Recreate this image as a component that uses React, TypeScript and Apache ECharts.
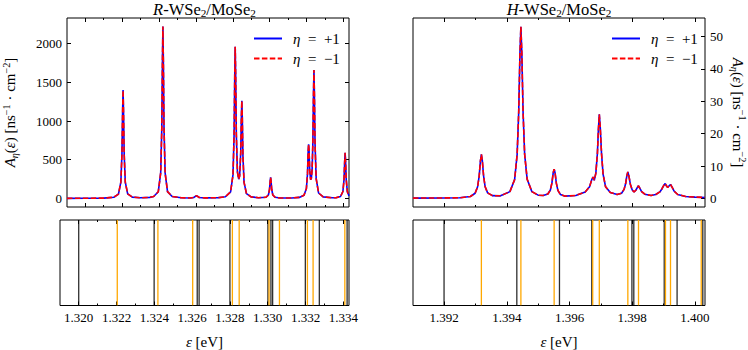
import React, { useEffect, useRef } from 'react';
import * as echarts from 'echarts';

// ---------- data ----------
// R-WSe2/MoSe2 spectrum (energy in eV, A_eta in ns^-1 cm^-2); eta=+1 and eta=-1 coincide
const rSpectrum: [number, number][] = [
  [1.31901, 1], [1.32, 2], [1.321, 4], [1.32155, 15], [1.3218, 56], [1.32193, 210],
  [1.32199, 576], [1.322025, 1120], [1.32205, 1400], [1.322075, 1120], [1.32211, 576],
  [1.32217, 210], [1.3223, 58], [1.32255, 17], [1.323, 8], [1.3235, 13], [1.32371, 24],
  [1.32396, 87], [1.32409, 331], [1.32415, 912], [1.324185, 1778], [1.32421, 2220],
  [1.324235, 1778], [1.32427, 912], [1.32433, 331], [1.32446, 88], [1.32471, 25],
  [1.3252, 8], [1.3257, 6], [1.32588, 12], [1.32603, 35], [1.32618, 12], [1.3265, 7],
  [1.3272, 9], [1.3276, 21], [1.32788, 84], [1.32801, 304], [1.32807, 822],
  [1.328105, 1587], [1.32813, 1960], [1.328155, 1595], [1.32819, 838], [1.32825, 342],
  [1.32832, 248], [1.32837, 290], [1.32843, 590], [1.328465, 1051], [1.32849, 1260],
  [1.328515, 1040], [1.32855, 544], [1.32861, 207], [1.32874, 62], [1.32899, 20],
  [1.3294, 9], [1.3298, 15], [1.32993, 44], [1.32999, 115], [1.330025, 220],
  [1.33005, 272], [1.330075, 220], [1.33011, 115], [1.33017, 44], [1.3303, 14],
  [1.33055, 5], [1.3312, 6], [1.3316, 13], [1.33186, 41], [1.33199, 128], [1.33205, 320],
  [1.332085, 601], [1.33211, 700], [1.332135, 617], [1.33217, 362], [1.33222, 242],
  [1.33226, 262], [1.3323, 375], [1.33234, 712], [1.332375, 1352], [1.3324, 1660],
  [1.332425, 1345], [1.33246, 694], [1.33252, 256], [1.33265, 70], [1.3329, 20],
  [1.3334, 8], [1.33359, 9], [1.33384, 25], [1.33397, 89], [1.33403, 244],
  [1.334065, 473], [1.33409, 590], [1.334115, 473], [1.33415, 243], [1.33421, 88],
  [1.3343, 33],
];

// H-WSe2/MoSe2 spectrum
const hSpectrum: [number, number][] = [
  [1.39101, 0.1], [1.392, 0.15], [1.3925, 0.2], [1.39284, 0.6], [1.39299, 1.6],
  [1.39307, 3.6], [1.39312, 6.9], [1.39316, 11.6], [1.39319, 13.6], [1.39322, 11.7],
  [1.39326, 7.0], [1.39331, 3.6], [1.39339, 1.7], [1.39354, 0.85], [1.3938, 0.8],
  [1.3941, 2.1], [1.39425, 5.8], [1.39433, 13.5], [1.39438, 26.5], [1.39442, 44.8],
  [1.39445, 53], [1.39448, 44.8], [1.39452, 26.5], [1.39457, 13.6], [1.39465, 5.9],
  [1.3948, 2.1], [1.395, 1.0], [1.39516, 0.9], [1.39531, 1.35], [1.39539, 2.6],
  [1.39544, 4.8], [1.39548, 7.9], [1.39551, 9], [1.39554, 7.85], [1.39558, 4.7],
  [1.39563, 2.5], [1.39571, 1.2], [1.39586, 0.7], [1.3962, 0.9], [1.3965, 2.0],
  [1.39664, 3.6], [1.39671, 5.8], [1.39675, 6.6], [1.39679, 5.6], [1.39684, 7.8],
  [1.39689, 14], [1.39692, 21], [1.39695, 26], [1.39698, 22], [1.39702, 14],
  [1.39707, 7.5], [1.39715, 3.6], [1.3973, 1.8], [1.39752, 1.2], [1.39766, 1.6],
  [1.39774, 2.8], [1.39779, 4.6], [1.39783, 7.1], [1.39786, 8.2], [1.39789, 7.1],
  [1.39794, 4.4], [1.398, 2.6], [1.39806, 2.0], [1.39812, 2.6], [1.39816, 3.3],
  [1.3982, 3.9], [1.39824, 3.2], [1.3983, 2.1], [1.3984, 1.3], [1.3986, 0.9],
  [1.39875, 1.2], [1.39888, 2.0], [1.39895, 3.0], [1.39901, 4.1], [1.39905, 4.6],
  [1.39909, 3.9], [1.39913, 3.4], [1.39918, 3.9], [1.39922, 4.3], [1.39927, 3.5],
  [1.39934, 2.2], [1.39945, 1.2], [1.3997, 0.6], [1.4, 0.4], [1.40032, 0.3],
];

// transition energies (lower panels)
const rBlackLines = [1.32, 1.32399, 1.32627, 1.32637, 1.328, 1.33001, 1.33017, 1.33026, 1.33199, 1.33273, 1.3342];
const rOrangeLines = [1.32204, 1.32419, 1.32603, 1.32813, 1.32849, 1.33007, 1.33062, 1.3321, 1.3324, 1.33408];
const hBlackLines = [1.392, 1.39432, 1.39568, 1.39671, 1.39799, 1.39805, 1.39902, 1.39943, 1.40025];
const hOrangeLines = [1.39319, 1.39445, 1.39551, 1.39674, 1.39695, 1.39786, 1.3982, 1.39906, 1.39922, 1.4002];

// axes
const rXRange = [1.31901, 1.3343];
const hXRange = [1.39101, 1.40032];
const rYRange = [-111, 2331];
const hYRange = [-2.65, 55.7];
const rXTicks = [1.32, 1.322, 1.324, 1.326, 1.328, 1.33, 1.332, 1.334];
const rXMinorTicks = [1.321, 1.323, 1.325, 1.327, 1.329, 1.331, 1.333];
const hXTicks = [1.392, 1.394, 1.396, 1.398, 1.4];
const hXMinorTicks = [1.393, 1.395, 1.397, 1.399];
const rYTicks = [0, 500, 1000, 1500, 2000];
const hYTicks = [0, 10, 20, 30, 40, 50];

const seriesNames = ['η = +1', 'η = −1'];

// ---------- styling ----------
const FONT = "'Liberation Serif', 'DejaVu Serif', serif";
const TICK_FS = 13;
const NAME_FS = 15;
const BLUE = '#0000ff';
const RED = '#ff0000';
const BLACK_LINE = 'rgba(0,0,0,0.82)';
const ORANGE_LINE = '#ffa800';

const richText = (fs: number) => ({
  n: { fontFamily: FONT, fontSize: fs, color: '#000', fill: '#000', lineHeight: 18, verticalAlign: 'middle' },
  i: { fontFamily: FONT, fontSize: fs, fontStyle: 'italic', color: '#000', fill: '#000', lineHeight: 18, verticalAlign: 'middle' },
  s: { fontFamily: FONT, fontSize: fs * 0.68, color: '#000', fill: '#000', lineHeight: 10, verticalAlign: 'bottom' },
  si: { fontFamily: FONT, fontSize: fs * 0.68, fontStyle: 'italic', color: '#000', fill: '#000', lineHeight: 10, verticalAlign: 'bottom' },
  p: { fontFamily: FONT, fontSize: fs * 0.68, color: '#000', fill: '#000', lineHeight: 10, verticalAlign: 'top' },
});

const yName = '{i|A}{si|η}{n|(}{i|ε}{n|) [ns}{p|−1}{n| · cm}{p|−2}{n|]}';
const xName = '{i|ε}{n| [eV]}';

function xAx(grid: number, range: number[], position: string, ticks: number[], len: number, labelled: boolean) {
  const ax: any = {
    type: 'value', gridIndex: grid, position, min: range[0], max: range[1],
    axisLine: { show: false, onZero: false },
    splitLine: { show: false },
    axisTick: { show: true, inside: true, length: len, customValues: ticks, lineStyle: { color: '#000', width: 1 } },
    axisLabel: { show: false },
  };
  if (labelled) {
    ax.axisLabel = {
      show: true, customValues: ticks, formatter: (v: number) => v.toFixed(3),
      fontFamily: FONT, fontSize: TICK_FS, color: '#000', margin: 5,
    };
    ax.name = xName;
    ax.nameLocation = 'middle';
    ax.nameGap = 27;
    ax.nameTextStyle = { rich: richText(NAME_FS) };
  }
  return ax;
}

function xAxesFor(grid: number, range: number[], ticks: number[], minor: number[], labelled: boolean) {
  return [
    xAx(grid, range, 'bottom', ticks, 4, labelled),
    xAx(grid, range, 'bottom', minor, 2, false),
    xAx(grid, range, 'top', ticks, 4, false),
    xAx(grid, range, 'top', minor, 2, false),
  ];
}

function yAx(grid: number, range: number[], position: string, ticks: number[] | null, labelled: boolean, extra: any = {}) {
  const ax: any = {
    type: 'value', gridIndex: grid, position, min: range[0], max: range[1],
    axisLine: { show: false, onZero: false },
    splitLine: { show: false },
    axisTick: ticks ? { show: true, inside: true, length: 4, customValues: ticks, lineStyle: { color: '#000', width: 1 } } : { show: false },
    axisLabel: labelled && ticks ? {
      show: true, customValues: ticks, formatter: (v: number) => String(v),
      fontFamily: FONT, fontSize: TICK_FS, color: '#000', margin: 5,
    } : { show: false },
    ...extra,
  };
  return ax;
}

function vlines(xIdx: number, yIdx: number, values: number[], color: string) {
  return {
    type: 'custom', xAxisIndex: xIdx, yAxisIndex: yIdx, silent: true, clip: true,
    data: values.map((v) => [v, 0.5]),
    renderItem: (_p: any, api: any) => {
      const x = api.value(0);
      const a = api.coord([x, 0]);
      const b = api.coord([x, 1]);
      return { type: 'line', shape: { x1: a[0], y1: a[1], x2: b[0], y2: b[1] }, style: { stroke: color, lineWidth: 1.3 } };
    },
  };
}

function spectrum(name: string, xIdx: number, yIdx: number, data: [number, number][], minus: boolean) {
  return {
    type: 'line', name, xAxisIndex: xIdx, yAxisIndex: yIdx, data,
    symbol: 'none', showSymbol: false, silent: true,
    lineStyle: minus ? { color: RED, width: 1.6, type: [5.5, 2.4] } : { color: BLUE, width: 1.6, type: 'solid' },
    itemStyle: { color: minus ? RED : BLUE },
    z: minus ? 3 : 2,
  };
}

function legendAt(left: number) {
  return {
    left, top: 26, orient: 'vertical', itemWidth: 28, itemHeight: 14, itemGap: 5,
    data: seriesNames, selectedMode: false,
    itemStyle: { opacity: 0 },
    formatter: (name: string) => (name === seriesNames[0] ? '{i|η}{n|\u2002=\u2002+1}' : '{i|η}{n|\u2002=\u2002−1}'),
    textStyle: { padding: [0, 0, 0, 6], rich: richText(15) },
  };
}

export default function App() {
  const ref = useRef<HTMLDivElement>(null);
  useEffect(() => {
    if (!ref.current) return;
    const chart = echarts.init(ref.current, undefined, { renderer: 'svg' });
    const option: any = {
      animation: false,
      backgroundColor: '#fff',
      textStyle: { fontFamily: FONT },
      grid: [
        { left: 60, top: 18, width: 289, height: 189, show: true, borderColor: '#000', borderWidth: 1 },
        { left: 60, top: 220, width: 289, height: 94, show: true, borderColor: '#000', borderWidth: 1 },
        { left: 413, top: 18, width: 292, height: 189, show: true, borderColor: '#000', borderWidth: 1 },
        { left: 413, top: 220, width: 292, height: 94, show: true, borderColor: '#000', borderWidth: 1 },
      ],
      xAxis: [
        ...xAxesFor(0, rXRange, rXTicks, rXMinorTicks, false),
        ...xAxesFor(1, rXRange, rXTicks, rXMinorTicks, true),
        ...xAxesFor(2, hXRange, hXTicks, hXMinorTicks, false),
        ...xAxesFor(3, hXRange, hXTicks, hXMinorTicks, true),
      ],
      yAxis: [
        yAx(0, rYRange, 'left', rYTicks, true, {
          name: yName, nameLocation: 'middle', nameGap: 48, nameRotate: 90,
          nameTextStyle: { rich: richText(NAME_FS) },
        }),
        yAx(0, rYRange, 'right', rYTicks, false),
        yAx(1, [0, 1], 'left', null, false),
        yAx(2, hYRange, 'right', hYTicks, true, {
          name: yName, nameLocation: 'middle', nameGap: 24, nameRotate: -90,
          nameTextStyle: { rich: richText(NAME_FS) },
        }),
        yAx(3, [0, 1], 'left', null, false),
      ],
      legend: [legendAt(248), legendAt(606)],
      series: [
        spectrum(seriesNames[0], 0, 0, rSpectrum, false),
        spectrum(seriesNames[1], 0, 0, rSpectrum, true),
        vlines(4, 2, rBlackLines, BLACK_LINE),
        vlines(4, 2, rOrangeLines, ORANGE_LINE),
        spectrum(seriesNames[0], 8, 3, hSpectrum, false),
        spectrum(seriesNames[1], 8, 3, hSpectrum, true),
        vlines(12, 4, hBlackLines, BLACK_LINE),
        vlines(12, 4, hOrangeLines, ORANGE_LINE),
      ],
      graphic: [
        {
          type: 'text', x: 204.5, y: 9,
          style: { text: '{i|R}{n|-WSe}{s|2}{n|/MoSe}{s|2}', rich: richText(16.5), align: 'center', verticalAlign: 'middle' },
        },
        {
          type: 'text', x: 559, y: 9,
          style: { text: '{i|H}{n|-WSe}{s|2}{n|/MoSe}{s|2}', rich: richText(16.5), align: 'center', verticalAlign: 'middle' },
        },
      ],
    };
    chart.setOption(option);
    return () => chart.dispose();
  }, []);
  return <div ref={ref} style={{ position: 'fixed', left: 0, top: 0, width: 748, height: 350, background: '#fff' }} />;
}
